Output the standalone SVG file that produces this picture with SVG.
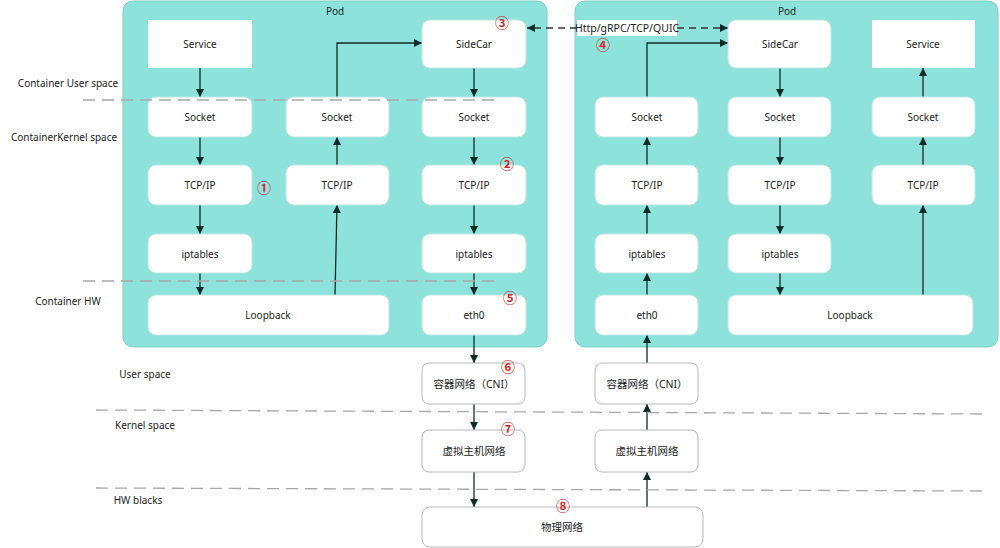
<svg xmlns="http://www.w3.org/2000/svg" width="1000" height="548" viewBox="0 0 1000 548">
<defs>
<marker id="ah" viewBox="0 0 10 10" refX="10" refY="5" markerWidth="8" markerHeight="8" markerUnits="userSpaceOnUse" orient="auto">
<path d="M0,0 L10,5 L0,10 z" fill="#112a2a"/>
</marker>
<style>
.pod{fill:#8de3dc;stroke:#79cfc8;stroke-width:1}
.n{fill:#ffffff;stroke:#bfe6e2;stroke-width:1}
.o{fill:#ffffff;stroke:#b8b8b8;stroke-width:1}
.t{font-family:"Noto Sans","Liberation Sans",sans-serif;font-size:10px;fill:#222;text-anchor:middle;dominant-baseline:central}
.c{font-family:"Noto Sans","Noto Sans CJK SC",sans-serif;font-size:10.5px;fill:#222;text-anchor:middle;dominant-baseline:central}
.l{font-family:"Noto Sans","Liberation Sans",sans-serif;font-size:10px;fill:#222;text-anchor:middle;dominant-baseline:central}
.num{font-family:"Noto Sans CJK SC","DejaVu Sans",sans-serif;font-size:14px;font-weight:bold;fill:#d42a2a;text-anchor:middle;dominant-baseline:central}
.a{stroke:#112a2a;stroke-width:1.3;fill:none;marker-end:url(#ah)}
.d{stroke:#333;stroke-width:1.3;fill:none;stroke-dasharray:7,5;marker-end:url(#ah)}
.sep{stroke:#a8a8a8;stroke-width:1.3;stroke-dasharray:12,7;fill:none}
</style>
</defs>

<g id="pod-left"><rect class="pod" x="123" y="1" width="424" height="346" rx="10"/><text class="t" x="335" y="11">Pod</text></g>
<g id="pod-right"><rect class="pod" x="575" y="1" width="423" height="346" rx="10"/><text class="t" x="787" y="11">Pod</text></g>

<g id="layer-labels">
<text class="l" x="68" y="83">Container User space</text>
<text class="l" x="64" y="137">ContainerKernel space</text>
<text class="l" x="68" y="301">Container HW</text>
<text class="l" x="145" y="374">User space</text>
<text class="l" x="145" y="425">Kernel space</text>
<text class="l" x="138" y="500">HW blacks</text>
</g>

<g id="connectors">
<line class="a" x1="200" y1="68" x2="200" y2="97"/>
<line class="a" x1="200" y1="137" x2="200" y2="165"/>
<line class="a" x1="200" y1="205" x2="200" y2="234"/>
<line class="a" x1="200" y1="273" x2="200" y2="295"/>
<line class="a" x1="335" y1="295" x2="337" y2="205"/>
<line class="a" x1="337" y1="165" x2="337" y2="137"/>
<polyline class="a" points="337,97 337,43 422,43"/>
<line class="a" x1="474" y1="68" x2="474" y2="97"/>
<line class="a" x1="474" y1="137" x2="474" y2="165"/>
<line class="a" x1="474" y1="205" x2="474" y2="234"/>
<line class="a" x1="474" y1="273" x2="474" y2="295"/>
<line class="a" x1="474" y1="335" x2="474" y2="363"/>
<line class="a" x1="474" y1="404" x2="474" y2="430"/>
<line class="a" x1="474" y1="472" x2="474" y2="507"/>
<line class="a" x1="647" y1="507" x2="647" y2="472"/>
<line class="a" x1="647" y1="430" x2="647" y2="404"/>
<line class="a" x1="647" y1="363" x2="647" y2="335"/>
<line class="a" x1="647" y1="295" x2="647" y2="273"/>
<line class="a" x1="647" y1="234" x2="647" y2="205"/>
<line class="a" x1="647" y1="165" x2="647" y2="137"/>
<polyline class="a" points="647,97 647,43 728,43"/>
<line class="a" x1="780" y1="68" x2="780" y2="97"/>
<line class="a" x1="780" y1="137" x2="780" y2="165"/>
<line class="a" x1="780" y1="205" x2="780" y2="234"/>
<line class="a" x1="780" y1="273" x2="780" y2="295"/>
<line class="a" x1="923" y1="295" x2="923" y2="205"/>
<line class="a" x1="923" y1="165" x2="923" y2="137"/>
<line class="a" x1="923" y1="97" x2="923" y2="68"/>
<line class="d" x1="577" y1="28" x2="527" y2="28"/>
<line class="d" x1="677" y1="28" x2="728" y2="28"/>
<rect x="577" y="20" width="100" height="16" fill="#ffffff"/>
<text class="l" x="627" y="28" style="font-size:10.5px">Http/gRPC/TCP/QUIC</text>
</g>

<g id="left-service"><rect x="148" y="20" width="104" height="48" fill="#fff"/><text class="t" x="200" y="44">Service</text></g>
<g id="left-sidecar"><rect class="n" x="422" y="20" width="104" height="48" rx="8"/><text class="t" x="474" y="44">SideCar</text></g>
<g id="left-socket-a"><rect class="n" x="148" y="97" width="104" height="40" rx="8"/><text class="t" x="200" y="117">Socket</text></g>
<g id="left-socket-b"><rect class="n" x="286" y="97" width="103" height="40" rx="8"/><text class="t" x="337" y="117">Socket</text></g>
<g id="left-socket-c"><rect class="n" x="422" y="97" width="104" height="40" rx="8"/><text class="t" x="474" y="117">Socket</text></g>
<g id="left-tcp-a"><rect class="n" x="148" y="165" width="104" height="40" rx="8"/><text class="t" x="200" y="185">TCP/IP</text></g>
<g id="left-tcp-b"><rect class="n" x="286" y="165" width="103" height="40" rx="8"/><text class="t" x="337" y="185">TCP/IP</text></g>
<g id="left-tcp-c"><rect class="n" x="422" y="165" width="104" height="40" rx="8"/><text class="t" x="474" y="185">TCP/IP</text></g>
<g id="left-ipt-a"><rect class="n" x="148" y="234" width="104" height="39" rx="8"/><text class="t" x="200" y="254">iptables</text></g>
<g id="left-ipt-c"><rect class="n" x="422" y="234" width="104" height="39" rx="8"/><text class="t" x="474" y="254">iptables</text></g>
<g id="left-loopback"><rect class="n" x="148" y="295" width="241" height="40" rx="8"/><text class="t" x="268" y="315">Loopback</text></g>
<g id="left-eth0"><rect class="n" x="422" y="295" width="104" height="40" rx="8"/><text class="t" x="474" y="315">eth0</text></g>

<g id="right-sidecar"><rect class="n" x="728" y="20" width="103" height="48" rx="8"/><text class="t" x="780" y="44">SideCar</text></g>
<g id="right-service"><rect x="872" y="20" width="103" height="48" fill="#fff"/><text class="t" x="923" y="44">Service</text></g>
<g id="right-socket-d"><rect class="n" x="595" y="97" width="103" height="40" rx="8"/><text class="t" x="647" y="117">Socket</text></g>
<g id="right-socket-e"><rect class="n" x="728" y="97" width="103" height="40" rx="8"/><text class="t" x="780" y="117">Socket</text></g>
<g id="right-socket-f"><rect class="n" x="872" y="97" width="103" height="40" rx="8"/><text class="t" x="923" y="117">Socket</text></g>
<g id="right-tcp-d"><rect class="n" x="595" y="165" width="103" height="40" rx="8"/><text class="t" x="647" y="185">TCP/IP</text></g>
<g id="right-tcp-e"><rect class="n" x="728" y="165" width="103" height="40" rx="8"/><text class="t" x="780" y="185">TCP/IP</text></g>
<g id="right-tcp-f"><rect class="n" x="872" y="165" width="103" height="40" rx="8"/><text class="t" x="923" y="185">TCP/IP</text></g>
<g id="right-ipt-d"><rect class="n" x="595" y="234" width="103" height="39" rx="8"/><text class="t" x="647" y="254">iptables</text></g>
<g id="right-ipt-e"><rect class="n" x="728" y="234" width="103" height="39" rx="8"/><text class="t" x="780" y="254">iptables</text></g>
<g id="right-eth0"><rect class="n" x="595" y="295" width="103" height="40" rx="8"/><text class="t" x="647" y="315">eth0</text></g>
<g id="right-loopback"><rect class="n" x="728" y="295" width="245" height="40" rx="8"/><text class="t" x="850" y="315">Loopback</text></g>

<g id="left-cni"><rect class="o" x="422" y="363" width="103" height="41" rx="7"/><text class="c" x="474" y="384">容器网络（CNI）</text></g>
<g id="right-cni"><rect class="o" x="595" y="363" width="103" height="41" rx="7"/><text class="c" x="647" y="384">容器网络（CNI）</text></g>
<g id="left-vhost"><rect class="o" x="422" y="430" width="103" height="42" rx="7"/><text class="c" x="474" y="451">虚拟主机网络</text></g>
<g id="right-vhost"><rect class="o" x="595" y="430" width="103" height="42" rx="7"/><text class="c" x="647" y="451">虚拟主机网络</text></g>
<g id="phys"><rect class="o" x="422" y="507" width="281" height="40" rx="8"/><text class="c" x="562" y="527">物理网络</text></g>

<g id="separators">
<line class="sep" x1="83" y1="100" x2="495" y2="100"/>
<line class="sep" x1="83" y1="281" x2="495" y2="281"/>
<line class="sep" x1="96" y1="410" x2="985" y2="414"/>
<line class="sep" x1="96" y1="488" x2="985" y2="491"/>
</g>

<g id="markers">
<text class="num" x="264" y="187">①</text>
<text class="num" x="507" y="163">②</text>
<text class="num" x="502" y="22">③</text>
<text class="num" x="603" y="44">④</text>
<text class="num" x="510" y="297">⑤</text>
<text class="num" x="508" y="366">⑥</text>
<text class="num" x="508" y="428">⑦</text>
<text class="num" x="563" y="505">⑧</text>
</g>
</svg>
